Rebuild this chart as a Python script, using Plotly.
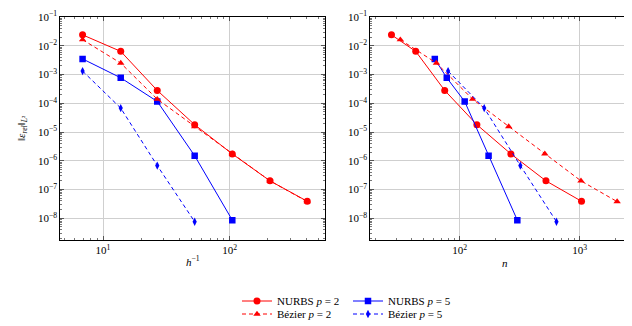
import plotly.graph_objects as go

# ---- data ----
h_inv = [6.9, 13.8, 26.8, 52.9, 104.8, 208, 409]
err_nurbs2 = [2.4e-2, 6.4e-3, 2.8e-4, 1.8e-5, 1.73e-6, 2.0e-7, 3.9e-8]
err_bez2 = [1.63e-2, 2.5e-3, 1.39e-4, 1.55e-5, 1.75e-6, 2.0e-7, 3.8e-8]
h_inv_nurbs5 = [6.9, 13.8, 26.8, 52.9, 104.8]
err_nurbs5 = [3.5e-3, 7.7e-4, 1.16e-4, 1.5e-6, 8.6e-9]
h_inv_bez5 = [6.9, 13.8, 26.8, 52.9]
err_bez5 = [1.32e-3, 6.8e-5, 6.8e-7, 7.6e-9]

n_nurbs2 = [27, 43, 75, 139, 267, 523, 1035]
n_bez2 = [32, 64, 128, 256, 512, 1024, 2048]
n_nurbs5 = [62, 78, 110, 174, 302]
n_bez5 = [80, 160, 320, 640]

names = ["NURBS <i>p</i> = 2", "NURBS <i>p</i> = 5", "Bézier <i>p</i> = 2", "Bézier <i>p</i> = 5"]

y_exps = [-8, -7, -6, -5, -4, -3, -2, -1]
x1_exps = [1, 2]
x2_exps = [2, 3]

RED = "#ff0000"
BLUE = "#0000ff"
FONT = "Liberation Serif"

fig = go.Figure()

def add(x, y, name, color, symbol, size, dash, xa, ya, show, legend):
    fig.add_trace(go.Scatter(
        x=x, y=y, name=name, mode="lines+markers",
        line=dict(color=color, width=1, dash=dash),
        marker=dict(color=color, symbol=symbol, size=size),
        xaxis=xa, yaxis=ya, showlegend=show, legend=legend))

add(h_inv, err_nurbs2, names[0], RED, "circle", 7, "solid", "x", "y", True, "legend")
add(h_inv_nurbs5, err_nurbs5, names[1], BLUE, "square", 6.5, "solid", "x", "y", True, "legend")
add(h_inv, err_bez2, names[2], RED, "triangle-up", 6.5, "4px,3px", "x", "y", True, "legend2")
add(h_inv_bez5, err_bez5, names[3], BLUE, "diamond-tall", 6, "4px,3px", "x", "y", True, "legend2")

add(n_nurbs2, err_nurbs2, names[0], RED, "circle", 7, "solid", "x2", "y2", False, "legend")
add(n_nurbs5, err_nurbs5, names[1], BLUE, "square", 6.5, "solid", "x2", "y2", False, "legend")
add(n_bez2, err_bez2, names[2], RED, "triangle-up", 6.5, "4px,3px", "x2", "y2", False, "legend2")
add(n_bez5, err_bez5, names[3], BLUE, "diamond-tall", 6, "4px,3px", "x2", "y2", False, "legend2")

W, H = 632, 326

def pw(exps):
    return [10.0 ** e for e in exps], ["10<sup>%s</sup>" % (str(e).replace("-", "−")) for e in exps]

ax_common = dict(
    type="log", showline=True, linecolor="#000", linewidth=1, mirror="ticks",
    ticks="inside", ticklen=4, tickcolor="#555",
    showgrid=True, gridcolor="#cfcfcf", gridwidth=0.8, zeroline=False,
    tickfont=dict(family=FONT, size=11, color="#000"),
    minor=dict(ticks="inside", ticklen=2, tickcolor="#777", dtick="D1", showgrid=False),
)
yv, yt = pw(y_exps)
x1v, x1t = pw(x1_exps)
x2v, x2t = pw(x2_exps)

leg_common = dict(orientation="h", xanchor="left", yanchor="middle", entrywidth=66,
                  font=dict(family=FONT, size=11), bgcolor="rgba(0,0,0,0)")

fig.update_layout(
    width=W, height=H, margin=dict(l=0, r=0, t=9, b=94),
    paper_bgcolor="white", plot_bgcolor="white",
    font=dict(family=FONT, size=11, color="#000"),
    xaxis=dict(ax_common, domain=[52.3 / W, 317 / W], range=[0.663, 2.752], anchor="y",
               tickvals=x1v, ticktext=x1t),
    yaxis=dict(ax_common, domain=[0, 1], range=[-8.756, -0.998], anchor="x",
               tickvals=yv, ticktext=yt),
    xaxis2=dict(ax_common, domain=[362.3 / W, 626.7 / W], range=[1.255, 3.458], anchor="y2",
                tickvals=x2v, ticktext=x2t),
    yaxis2=dict(ax_common, domain=[0, 1], range=[-8.756, -0.998], anchor="x2",
                tickvals=yv, ticktext=yt),
    legend=dict(leg_common, x=229 / W, y=-(293 - 232) / 223),
    legend2=dict(leg_common, x=229 / W, y=-(306 - 232) / 223),
    annotations=[
        dict(text="<i>h</i><sup>−1</sup>", x=185 / W, y=-(253 - 232) / 223, xref="paper", yref="paper",
             xanchor="center", yanchor="middle", showarrow=False, font=dict(family=FONT, size=11)),
        dict(text="<i>n</i>", x=497 / W, y=-(255 - 232) / 223, xref="paper", yref="paper",
             xanchor="center", yanchor="middle", showarrow=False, font=dict(family=FONT, size=11)),
        dict(text="‖<i>ε</i><sub><i>rel</i></sub>‖<sub><i>L</i>²</sub>", x=14 / W, y=(232 - 120) / 223,
             xref="paper", yref="paper", xanchor="center", yanchor="middle", textangle=-90,
             showarrow=False, font=dict(family=FONT, size=11)),
    ],
)

fig.write_html("out.html")
